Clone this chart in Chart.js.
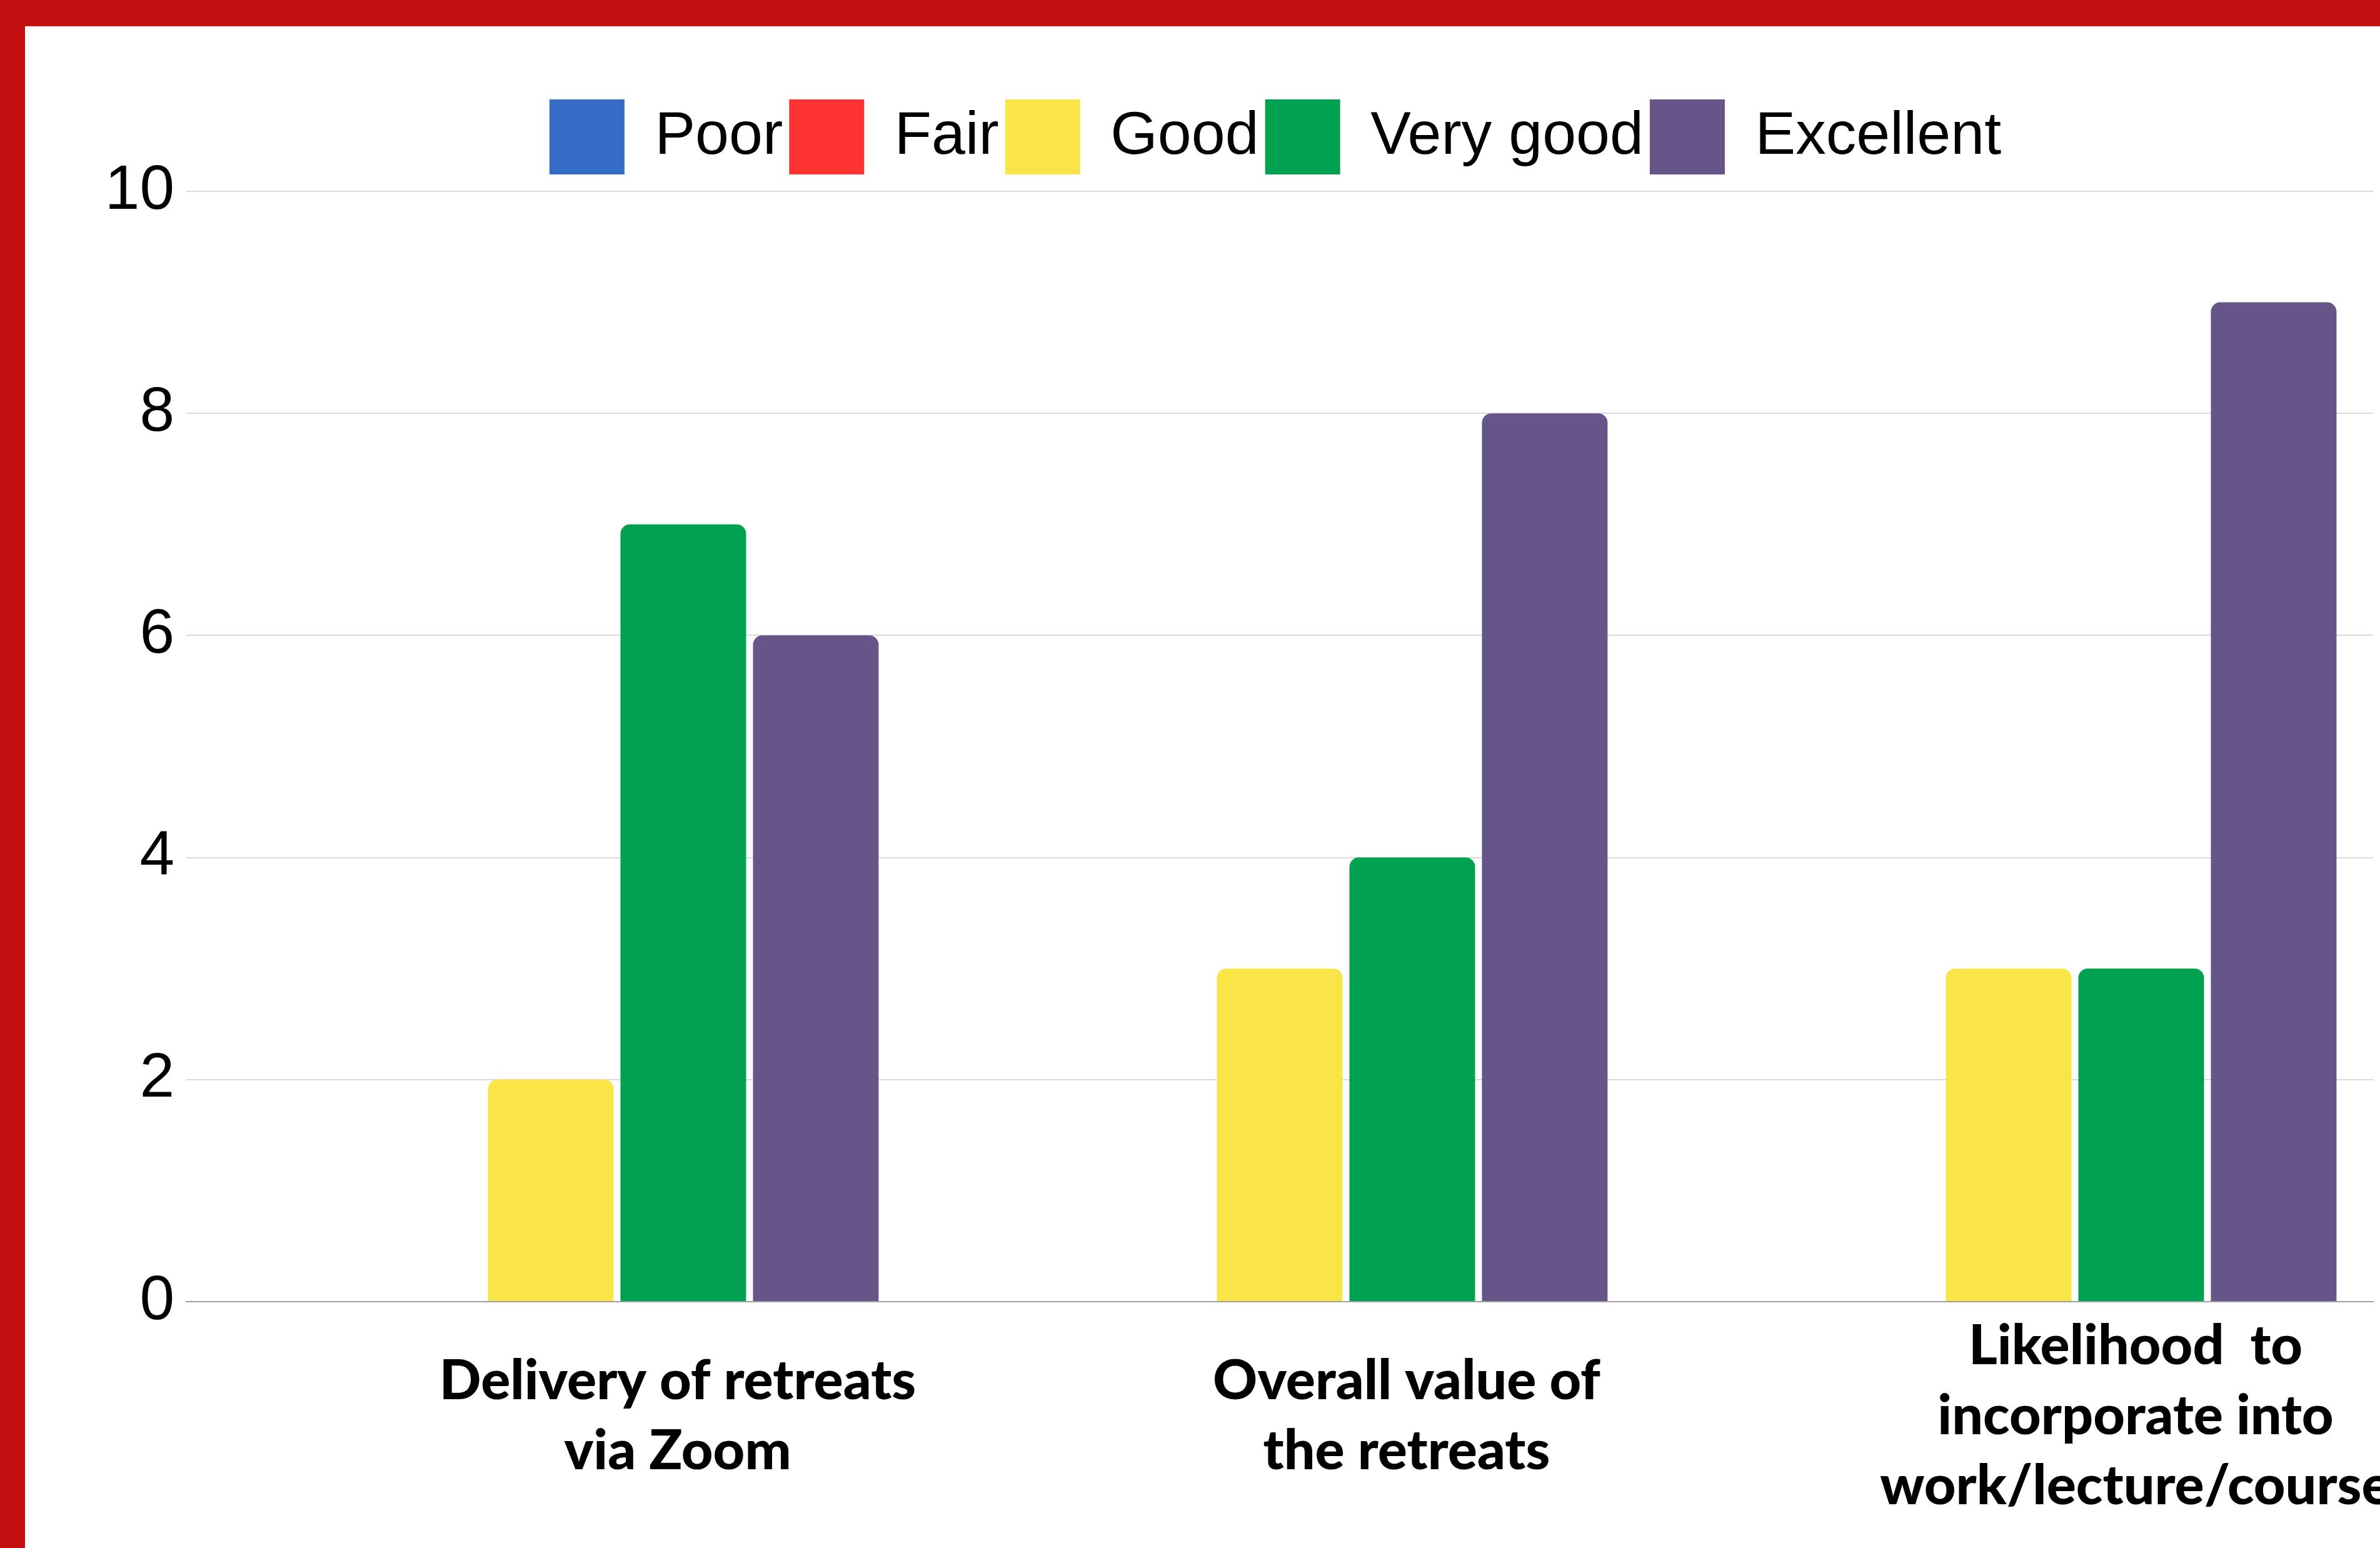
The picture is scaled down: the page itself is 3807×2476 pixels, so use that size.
<!DOCTYPE html>
<html>
<head>
<meta charset="utf-8">
<script src="https://cdn.jsdelivr.net/npm/chart.js@4.4.0/dist/chart.umd.min.js"></script>
<style>
  html, body { margin: 0; padding: 0; overflow: hidden; }
  body { width: 3807px; height: 2476px; background: #c30f0f; position: relative; }
  #frame { position: absolute; left: 40px; top: 42px; right: 0; bottom: 0; background: #fff; overflow: hidden; }
  #chart { position: absolute; left: 0; top: 0; }
</style>
</head>
<body>
<div id="frame"><canvas id="chart" width="3880" height="2520"></canvas></div>
<script>
'use strict'

// chart data
const categories = [
    ["Delivery of retreats", "via Zoom"],
    ["Overall value of", "the retreats"],
    ["Likelihood  to", "incorporate into", "work/lecture/course"]
];
const seriesNames = ["Poor", "Fair", "Good", "Very good", "Excellent"];
const seriesColors = ["#356cc8", "#ff3232", "#f9e547", "#00a14f", "#665589"];
const poor = [0, 0, 0];
const fair = [0, 0, 0];
const good = [2, 3, 3];
const veryGood = [7, 4, 3];
const excellent = [6, 8, 9];
const yTicks = [0, 2, 4, 6, 8, 10];

const seriesValues = [poor, fair, good, veryGood, excellent];

// a little space between legend and plot
const legendGap = {
    id: 'legendGap',
    beforeInit(chart) {
        const fit = chart.legend.fit;
        chart.legend.fit = function () {
            fit.bind(chart.legend)();
            this.height += 17;
        };
    }
};

const ctx = document.getElementById("chart");

new Chart(ctx, {
    type: 'bar',
    data: {
        labels: categories,
        datasets: seriesNames.map((name, i) => ({
            label: name,
            data: seriesValues[i],
            backgroundColor: seriesColors[i],
            borderWidth: 0,
            borderRadius: 15,
            borderSkipped: 'start',
            categoryPercentage: 0.909,
            barPercentage: 0.948
        }))
    },
    plugins: [legendGap],
    options: {
        responsive: false,
        animation: false,
        devicePixelRatio: 1,
        layout: {
            padding: { left: 120, right: 0, top: 107, bottom: 0 }
        },
        plugins: {
            tooltip: { enabled: false },
            legend: {
                position: 'top',
                labels: {
                    boxWidth: 120,
                    boxHeight: 120,
                    padding: 10,
                    color: '#000',
                    font: { family: 'Liberation Sans', size: 97 }
                }
            }
        },
        scales: {
            x: {
                z: 1,
                grid: { display: false, drawTicks: false },
                border: { display: true, color: '#9e9e9e', width: 2 },
                ticks: {
                    color: '#000',
                    font: { family: 'Lato', weight: 900, size: 88, lineHeight: 1.273 },
                    padding: 72,
                    labelOffset: 203,
                    crossAlign: 'center',
                    maxRotation: 0,
                    minRotation: 0,
                    autoSkip: false
                }
            },
            y: {
                min: yTicks[0],
                max: yTicks[yTicks.length - 1],
                afterFit(scale) { scale.width = 138; },
                grid: { color: '#d9d9d9', lineWidth: 2, drawTicks: false },
                border: { display: false },
                ticks: {
                    stepSize: yTicks[1] - yTicks[0],
                    padding: 19,
                    color: '#000',
                    font: { family: 'Liberation Sans', size: 100 }
                }
            },
            // empty right-hand axis, only keeps room so the legend sits where it should
            yRight: {
                position: 'right',
                grid: { display: false, drawTicks: false },
                border: { display: false },
                ticks: { display: false },
                afterFit(scale) { scale.width = 124; }
            }
        }
    }
});
</script>
</body>
</html>
